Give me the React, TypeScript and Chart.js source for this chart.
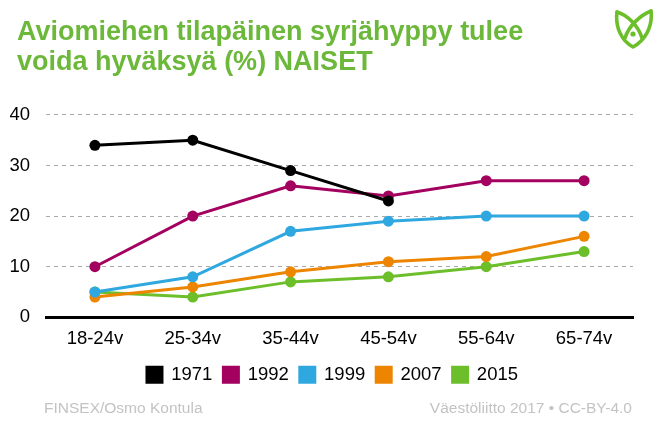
import React, { useEffect, useRef } from "react";
import { Chart, registerables } from "chart.js";

Chart.register(...registerables);

const categories = ["18-24v", "25-34v", "35-44v", "45-54v", "55-64v", "65-74v"];
const years = ["1971", "1992", "1999", "2007", "2015"];
const v1971 = [34, 35, 29, 23, null, null];
const v1992 = [10, 20, 26, 24, 27, 27];
const v1999 = [5, 8, 17, 19, 20, 20];
const v2007 = [4, 6, 9, 11, 12, 16];
const v2015 = [5, 4, 7, 8, 10, 13];
const colors = ["#000000", "#A3005F", "#2FA8E0", "#EE8500", "#6CBF2A"];
const titleLines = ["Aviomiehen tilapäinen syrjähyppy tulee", "voida hyväksyä (%) NAISET"];
const sourceLeft = "FINSEX/Osmo Kontula";
const sourceRight = "Väestöliitto 2017 • CC-BY-4.0";

const FONT = "'Liberation Sans', Arial, sans-serif";

const nudge = {
  id: "nudge",
  afterLayout(chart: any) {
    const lg = chart.legend;
    if (lg) {
      lg.top -= 7;
      lg.bottom -= 7;
      lg.left += 11;
      lg.right += 11;
    }
    const tb = chart.titleBlock;
    if (tb) {
      tb.left += 7;
      tb.right += 7;
    }
  },
};

export default function App() {
  const ref = useRef<HTMLCanvasElement>(null);
  useEffect(() => {
    const series = [v1971, v1992, v1999, v2007, v2015];
    const chart = new Chart(ref.current!, {
      type: "line",
      plugins: [nudge],
      data: {
        labels: categories,
        datasets: series.map((d, i) => ({
          label: years[i],
          data: d,
          borderColor: colors[i],
          backgroundColor: colors[i],
          pointBackgroundColor: colors[i],
          pointBorderColor: colors[i],
          pointRadius: 5.5,
          pointBorderWidth: 0,
          borderWidth: 3,
          tension: 0,
          spanGaps: false,
        })),
      },
      options: {
        animation: false,
        responsive: false,
        maintainAspectRatio: false,
        layout: { padding: { left: 10, right: 29, top: 18, bottom: 39 } },
        plugins: {
          title: {
            display: true,
            text: titleLines,
            align: "start",
            color: "#6CB83A",
            font: { family: FONT, size: 27, weight: "bold", lineHeight: 1.11 },
            padding: { top: 0, bottom: 37 },
          },
          legend: {
            display: true,
            position: "bottom",
            labels: {
              boxWidth: 15,
              boxHeight: 15,
              color: "#000",
              font: { family: FONT, size: 18.5 },
              padding: 11,
            },
          },
          tooltip: { enabled: false },
        },
        scales: {
          x: {
            offset: true,
            grid: { display: false, drawTicks: false },
            border: { display: true, color: "#000", width: 3 },
            ticks: { color: "#000", font: { family: FONT, size: 18.5 }, padding: 11 },
          },
          y: {
            min: 0,
            max: 40,
            afterFit: (scale: any) => {
              scale.width = 36;
            },
            ticks: { stepSize: 10, color: "#000", font: { family: FONT, size: 18.5 }, padding: 16 },
            grid: {
              drawTicks: false,
              color: (c: any) => (c.tick && c.tick.value === 0 ? "rgba(0,0,0,0)" : "#aaaaaa"),
              lineWidth: 1,
            },
            border: { display: false, dash: [4, 4] },
          },
        },
      },
    });
    return () => chart.destroy();
  }, []);
  return (
    <div style={{ position: "absolute", left: 0, top: 0, width: 662, height: 440, background: "#fff", fontFamily: FONT }}>
      <canvas ref={ref} width={662} height={440} style={{ display: "block" }} />
      <svg style={{ position: "absolute", left: 614, top: 8 }} width={40} height={42} viewBox="0 0 40 42">
        <g fill="none" stroke="#6CBF2A" strokeWidth={3.6} strokeLinejoin="round" strokeLinecap="round">
          <path d="M3 4 C1 20 8 33 19 39 C30 33 39 20 37 3" />
          <path d="M3 4 C13 7 24 17 28 30" />
          <path d="M37 3 C27 7 15 17 11 30" />
        </g>
        <circle cx={19} cy={26} r={2.6} fill="#6CBF2A" />
      </svg>
      <div style={{ position: "absolute", left: 44, top: 399, fontSize: 15.5, color: "#c3c3c3" }}>{sourceLeft}</div>
      <div style={{ position: "absolute", right: 30, top: 399, fontSize: 15.5, color: "#c3c3c3" }}>{sourceRight}</div>
    </div>
  );
}
